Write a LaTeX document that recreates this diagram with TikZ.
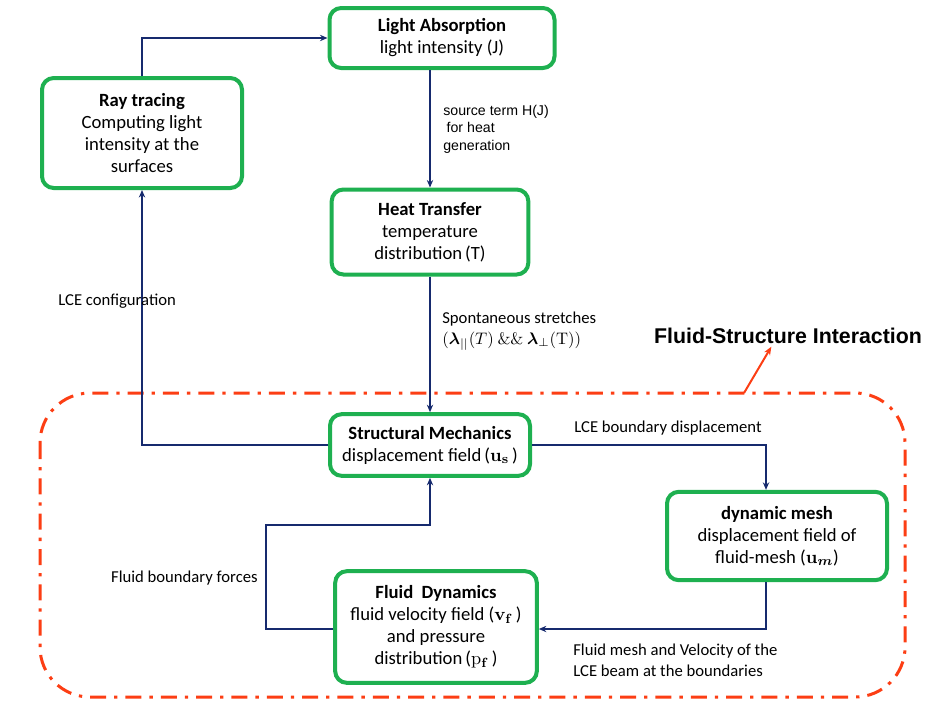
\documentclass[tikz,border=0pt]{standalone}
\usepackage{amsmath,amssymb}
\usepackage[no-math]{fontspec}
\setmainfont{Carlito}
\newfontfamily\arialfont{Liberation Sans}
\usepackage{tikz}
\usetikzlibrary{arrows.meta,positioning,calc}
\definecolor{boxgreen}{RGB}{30,176,80}
\definecolor{flownavy}{RGB}{22,42,110}
\definecolor{fsired}{RGB}{252,62,20}
\tikzset{
  procbox/.style={draw=boxgreen, line width=2.4pt, rounded corners=7pt, fill=white,
    align=center, inner sep=2pt, font=\fontsize{11.2}{13.2}\selectfont},
  flowln/.style={-{Stealth[length=4.5pt,width=3.8pt]}, line width=1.2pt, flownavy},
  lbl/.style={font=\fontsize{10}{12.5}\selectfont, inner sep=0pt, align=left},
  srclbl/.style={font=\arialfont\fontsize{8.5}{10.5}\selectfont, inner sep=0pt, align=left},
  fsiframe/.style={fsired, line width=1.8pt, rounded corners=30pt,
    dash pattern=on 9.6pt off 4.8pt on 2pt off 4.8pt},
  fsiptr/.style={-{Stealth[length=5pt,width=4pt]}, line width=1.2pt, fsired},
}
\newcommand{\hd}[1]{\textbf{#1}}

\begin{document}
\begin{tikzpicture}[x=0.6pt, y=-0.6pt]
    \useasboundingbox (0,0) rectangle (930,703);
    % FSI region
    \draw[fsiframe] (40,393) rectangle (905,697);
    \node[font=\arialfont\bfseries\fontsize{12.8}{15}\selectfont, inner sep=0pt] (fsi) at (788,336)
      {Fluid-Structure Interaction};
    \coordinate (fsifoot) at (744,393);
    \draw[fsiptr] (fsifoot) -- ([xshift=-10pt, yshift=-1.5pt]fsi.south);
    % boxes
    \node[procbox, minimum width=135pt, minimum height=36pt] (absorb) at (442,38)
      {\hd{Light Absorption}\\light intensity (J)};
    \node[procbox, minimum width=120pt, minimum height=66pt] (ray) at (142,133)
      {\hd{Ray tracing}\\Computing light\\intensity at the\\surfaces};
    \node[procbox, minimum width=118pt, minimum height=51pt] (heat) at (430,232)
      {\hd{Heat Transfer}\\temperature\\distribution\,(T)};
    \node[procbox, minimum width=120pt, minimum height=37pt] (struct) at (430,445)
      {\hd{Structural Mechanics}\\displacement field\,($\mathbf{u}_{\mathbf{s}}$\,)};
    \node[procbox, minimum width=132pt, minimum height=53pt] (mesh) at (777,536)
      {\hd{dynamic mesh}\\displacement field of\\fluid-mesh ($\mathbf{u}_{\boldsymbol{m}}$)};
    \node[procbox, minimum width=121pt, minimum height=67pt] (fluid) at (436,627)
      {\hd{Fluid\hspace{0.45em}Dynamics}\\fluid velocity field ($\mathbf{v}_{\mathbf{f}}$\,)\\and pressure\\distribution\,($\mathrm{p}_{\mathbf{f}}$\,)};
    % connectors
    \draw[flowln] (ray.north) |- (absorb.west);
    \draw[flowln] (absorb.south -| heat.north) -- (heat.north);
    \draw[flowln] (heat.south) -- (struct.north);
    \draw[flowln] (struct.west) -| (ray.south);
    \draw[flowln] (struct.east) -| ([xshift=-6.6pt]mesh.north);
    \draw[flowln] ([xshift=-6.6pt]mesh.south) |- ([yshift=-1.2pt]fluid.east);
    \draw[flowln] ([yshift=-1.2pt]fluid.west) -- ++(-67,0) -- ++(0,-104) -| (struct.south);
    % labels
    \node[srclbl, anchor=west] (srclabel) at (443,129)
      {source term H(J)\\\hspace{2pt}for heat\\generation};
    \node[lbl, anchor=west] (cfglabel) at (58,301) {LCE configuration};
    \node[lbl, anchor=west] (stretchlabel) at (442,331)
      {Spontaneous stretches\\$(\boldsymbol{\lambda}_{||}(T)\ \&\&\ \boldsymbol{\lambda}_{\perp}(\mathrm{T}))$};
    \node[lbl] (bdylabel) at (668,428) {LCE boundary displacement};
    \node[lbl, anchor=east] (forcelabel) at (258,578) {Fluid boundary forces};
    \node[lbl, anchor=west] (meshlabel) at (573,660)
      {Fluid mesh and Velocity of the\\LCE beam at the boundaries};
  \end{tikzpicture}
\end{document}
